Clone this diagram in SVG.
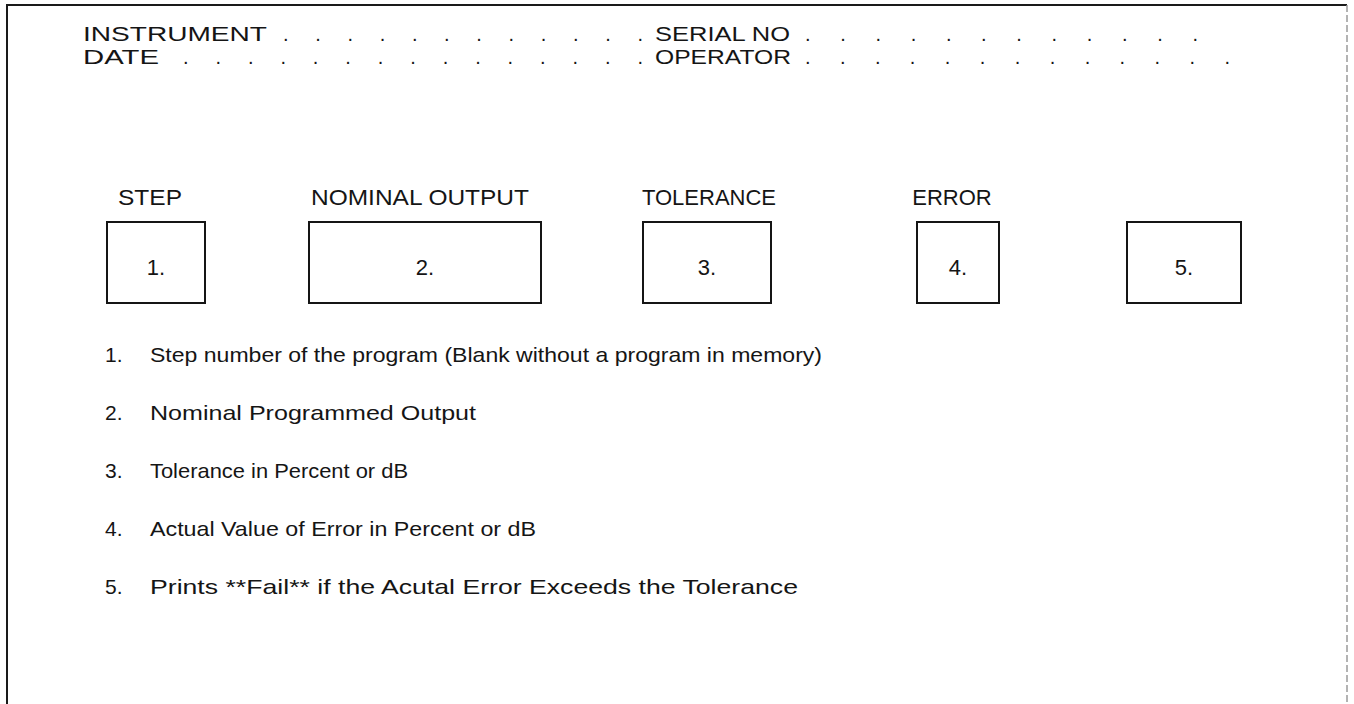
<svg xmlns="http://www.w3.org/2000/svg" width="1354" height="704" viewBox="0 0 1354 704">
  <style>
    text { font-family: "Liberation Sans", Arial, sans-serif; fill: #151515; }
    .field { font-size: 21px; }
    .dots { font-size: 20px; }
    .head { font-size: 22px; text-anchor: middle; }
    .num { font-size: 22px; text-anchor: middle; }
    .item { font-size: 21px; }
    .box { fill: none; stroke: #151515; stroke-width: 2; }
  </style>

  <rect width="1354" height="704" fill="#ffffff"/>

  <!-- page frame -->
  <g id="frame">
    <path d="M7,704 V5 H1347" fill="none" stroke="#1a1a1a" stroke-width="2"/>
    <line x1="1347" y1="5" x2="1347" y2="704" stroke="#9a9a9a" stroke-width="1.5" stroke-dasharray="7 3"/>
  </g>

  <!-- record header fields -->
  <g id="header-fields">
    <text class="field" x="83" y="41" textLength="184" lengthAdjust="spacingAndGlyphs">INSTRUMENT</text>
    <text class="dots" x="283" y="41" textLength="360" lengthAdjust="spacing">. . . . . . . . . . . .</text>
    <text class="field" x="655" y="41" textLength="135" lengthAdjust="spacingAndGlyphs">SERIAL NO</text>
    <text class="dots" x="805" y="41" textLength="393" lengthAdjust="spacing">. . . . . . . . . . . .</text>

    <text class="field" x="83" y="64" textLength="76" lengthAdjust="spacingAndGlyphs">DATE</text>
    <text class="dots" x="183" y="64" textLength="460" lengthAdjust="spacing">. . . . . . . . . . . . . . .</text>
    <text class="field" x="655" y="64" textLength="136" lengthAdjust="spacingAndGlyphs">OPERATOR</text>
    <text class="dots" x="805" y="64" textLength="425" lengthAdjust="spacing">. . . . . . . . . . . . .</text>
  </g>

  <!-- printout columns -->
  <g id="col-step">
    <text class="head" x="150" y="205" textLength="64" lengthAdjust="spacingAndGlyphs">STEP</text>
    <rect class="box" x="107" y="222" width="98" height="81"/>
    <text class="num" x="156" y="275">1.</text>
  </g>
  <g id="col-nominal">
    <text class="head" x="420" y="205" textLength="218" lengthAdjust="spacingAndGlyphs">NOMINAL OUTPUT</text>
    <rect class="box" x="309" y="222" width="232" height="81"/>
    <text class="num" x="425" y="275">2.</text>
  </g>
  <g id="col-tolerance">
    <text class="head" x="709" y="205">TOLERANCE</text>
    <rect class="box" x="643" y="222" width="128" height="81"/>
    <text class="num" x="707" y="275">3.</text>
  </g>
  <g id="col-error">
    <text class="head" x="952" y="205">ERROR</text>
    <rect class="box" x="917" y="222" width="82" height="81"/>
    <text class="num" x="958" y="275">4.</text>
  </g>
  <g id="col-fail">
    <rect class="box" x="1127" y="222" width="114" height="81"/>
    <text class="num" x="1184" y="275">5.</text>
  </g>

  <!-- legend -->
  <g id="legend-1">
    <text class="item" x="105" y="362">1.</text>
    <text class="item" x="150" y="362" textLength="672" lengthAdjust="spacingAndGlyphs">Step number of the program (Blank without a program in memory)</text>
  </g>
  <g id="legend-2">
    <text class="item" x="105" y="420">2.</text>
    <text class="item" x="150" y="420" textLength="326" lengthAdjust="spacingAndGlyphs">Nominal Programmed Output</text>
  </g>
  <g id="legend-3">
    <text class="item" x="105" y="478">3.</text>
    <text class="item" x="150" y="478" textLength="258" lengthAdjust="spacingAndGlyphs">Tolerance in Percent or dB</text>
  </g>
  <g id="legend-4">
    <text class="item" x="105" y="536">4.</text>
    <text class="item" x="150" y="536" textLength="386" lengthAdjust="spacingAndGlyphs">Actual Value of Error in Percent or dB</text>
  </g>
  <g id="legend-5">
    <text class="item" x="105" y="594">5.</text>
    <text class="item" x="150" y="594" textLength="648" lengthAdjust="spacingAndGlyphs">Prints **Fail** if the Acutal Error Exceeds the Tolerance</text>
  </g>
</svg>
